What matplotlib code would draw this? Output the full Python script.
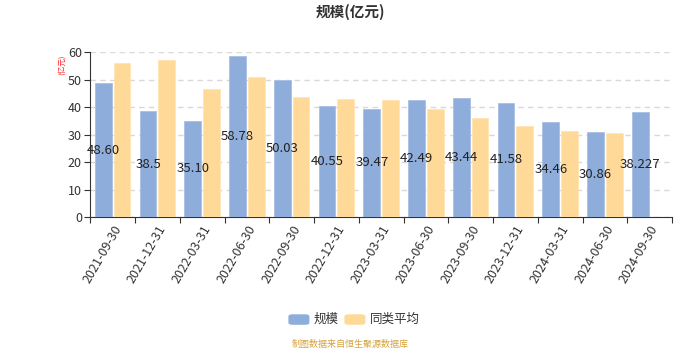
import matplotlib
matplotlib.use("Agg")
import matplotlib.pyplot as plt
import numpy as np
from matplotlib.patches import FancyBboxPatch

plt.rcParams['font.family'] = ['Noto Sans CJK SC', 'DejaVu Sans']

# data
dates = ['2021-09-30', '2021-12-31', '2022-03-31', '2022-06-30', '2022-09-30',
         '2022-12-31', '2023-03-31', '2023-06-30', '2023-09-30', '2023-12-31',
         '2024-03-31', '2024-06-30', '2024-09-30']
scale_values = [48.60, 38.5, 35.10, 58.78, 50.03, 40.55, 39.47, 42.49, 43.44,
                41.58, 34.46, 30.86, 38.227]
scale_labels = ['48.60', '38.5', '35.10', '58.78', '50.03', '40.55', '39.47',
                '42.49', '43.44', '41.58', '34.46', '30.86', '38.227']
peer_avg = [56.1, 57.1, 46.6, 50.9, 43.6, 42.8, 42.5, 39.4, 36.0, 33.0, 31.4, 30.5, None]

blue = '#8eaddb'
orange = '#ffd998'

fig = plt.figure(figsize=(7, 3.5), dpi=100)
ax = fig.add_axes([0.129, 0.38, 0.831, 0.471])

x = np.arange(len(dates))
w = 0.373
off = 0.209

ax.bar(x - off, scale_values, width=w, color=blue, edgecolor='#a9c0e4', linewidth=0.6, zorder=3)
px = [i for i, v in enumerate(peer_avg) if v is not None]
pv = [v for v in peer_avg if v is not None]
ax.bar(np.array(px) + off, pv, width=w, color=orange, edgecolor='#ffe4b5', linewidth=0.6, zorder=3)

for i, (v, lab) in enumerate(zip(scale_values, scale_labels)):
    ax.text(i - off, v / 2, lab, ha='center', va='center', fontsize=9.5,
            color='#222222', zorder=4)

ax.set_xlim(-0.5, len(dates) - 0.5)
ax.set_ylim(0, 60)
ax.set_yticks(range(0, 61, 10))
ax.yaxis.grid(True, linestyle=(0, (4, 3)), color='#d9d9d9', linewidth=1, zorder=0)

ax.set_xticks(np.arange(-0.5, len(dates), 1))
ax.set_xticklabels([])
ax.set_xticks(x, minor=True)
ax.set_xticklabels(dates, minor=True, rotation=60, ha='right', va='top',
                   rotation_mode='anchor', fontsize=9, color='#333333')
ax.tick_params(axis='x', which='minor', length=0, pad=4)
ax.tick_params(axis='x', which='major', length=4, color='#333333')
ax.tick_params(axis='y', length=4, color='#333333', labelsize=9, labelcolor='#333333', pad=2)

for s in ['top', 'right']:
    ax.spines[s].set_visible(False)
for s in ['left', 'bottom']:
    ax.spines[s].set_color('#333333')

fig.text(0.5, 0.965, '规模(亿元)', ha='center', va='center', fontsize=10.5,
         fontweight='bold', color='#333333')
fig.text(0.088, 0.815, '(亿元)', ha='center', va='center', rotation=90,
         fontsize=5.5, color='#ff2222')

# legend
fig.patches.append(FancyBboxPatch((0.412, 0.072), 0.03, 0.03, boxstyle='round,pad=0,rounding_size=0.006',
                                  transform=fig.transFigure, facecolor=blue, edgecolor='none'))
fig.text(0.448, 0.087, '规模', ha='left', va='center', fontsize=9, color='#333333')
fig.patches.append(FancyBboxPatch((0.492, 0.072), 0.03, 0.03, boxstyle='round,pad=0,rounding_size=0.006',
                                  transform=fig.transFigure, facecolor=orange, edgecolor='none'))
fig.text(0.528, 0.087, '同类平均', ha='left', va='center', fontsize=9, color='#333333')

fig.text(0.5, 0.015, '制图数据来自恒生聚源数据库', ha='center', va='center',
         fontsize=6.5, color='#d4a23a')

fig.savefig('out.png', dpi=100)
